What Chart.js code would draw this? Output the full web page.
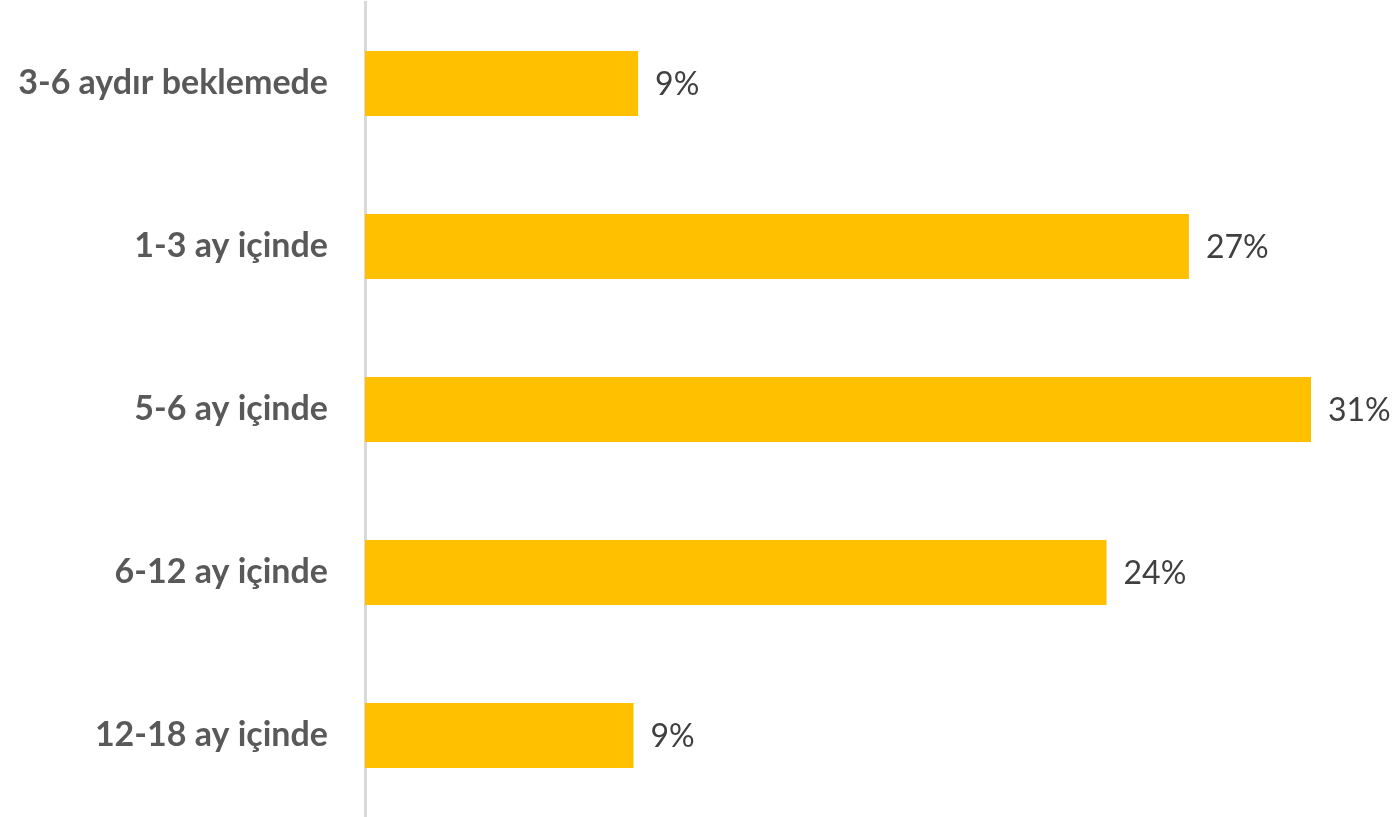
<!DOCTYPE html>
<html>
<head>
<meta charset="utf-8">
<script src="https://cdn.jsdelivr.net/npm/chart.js@4/dist/chart.umd.min.js"></script>
<style>
  html,body{margin:0;padding:0;background:#fff;}
  #wrap{width:1395px;height:817px;}
</style>
</head>
<body>
<div id="wrap"><canvas id="c"></canvas></div>
<script>
// values (labels shown rounded)
const categories = ['3-6 aydır beklemede', '1-3 ay içinde', '5-6 ay içinde', '6-12 ay içinde', '12-18 ay içinde'];
const shares = [8.95, 27.0, 31.0, 24.3, 8.8];

const barColor = '#FFC000';
const FONT = 'Lato, "Open Sans", sans-serif';

// small inline data-label plugin (no datalabels plugin offline)
const valueLabels = {
  id: 'valueLabels',
  afterDatasetsDraw(chart){
    const ctx = chart.ctx;
    const meta = chart.getDatasetMeta(0);
    ctx.save();
    ctx.font = '32px ' + FONT;
    ctx.fillStyle = '#404040';
    ctx.textAlign = 'left';
    ctx.textBaseline = 'middle';
    meta.data.forEach((bar, i)=>{
      ctx.fillText(Math.round(shares[i]) + '%', bar.x + 17, bar.y + 1);
    });
    ctx.restore();
  }
};

new Chart(document.getElementById('c'), {
  type: 'bar',
  data: {
    labels: categories,
    datasets: [{ data: shares, backgroundColor: barColor, borderWidth: 0,
                 categoryPercentage: 0.4, barPercentage: 1 }]
  },
  options: {
    indexAxis: 'y',
    responsive: true,
    maintainAspectRatio: false,
    animation: false,
    layout: { padding: { top: 2, bottom: 0, left: 0, right: 84 } },
    plugins: { legend: { display: false }, tooltip: { enabled: false } },
    scales: {
      x: { display: false, min: 0, max: 31 },
      y: {
        grid: { display: false, drawTicks: false },
        border: { display: true, color: '#d9d9d9', width: 3 },
        ticks: { color: '#595959', padding: 37, font: { family: FONT, size: 34, weight: 'bold' } },
        afterFit(scale){ scale.width = 365; scale.paddingTop = 0; scale.paddingBottom = 0; }
      }
    }
  },
  plugins: [valueLabels]
});
</script>
</body>
</html>
